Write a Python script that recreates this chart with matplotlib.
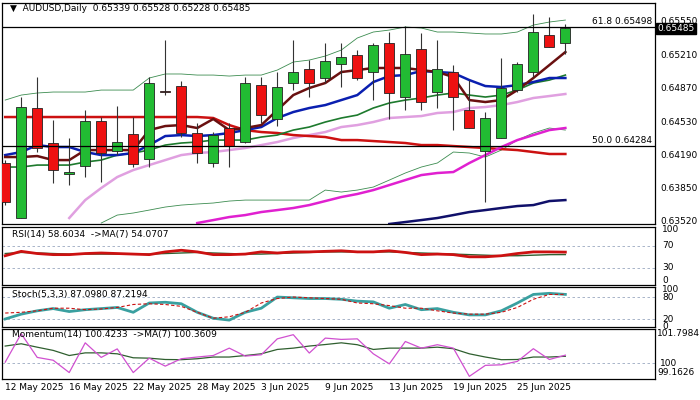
import matplotlib
matplotlib.use("Agg")
import matplotlib.pyplot as plt
import numpy as np

nan = np.nan
# --- candles (AUDUSD daily) ---
opens = [.64112, .63551, .64673, .64316, .63999, .64081, .64540, .64234, .64408, .64153, .64846, .64897,
         .64418, .64112, .64469, .64326, .64907, .64561, .64928, .65071, .64979, .65122, .65213, .65040,
         .65336, .64785, .65275, .64836, .65040, .64652, .64234, .64367, .64856, .65040, .65417, .65339]
highs = [.64142, .64785, .64989, .64550, .64367, .64652, .64581, .64693, .64581, .64989, .65366, .64948,
         .64520, .64428, .64520, .64989, .64989, .65040, .65366, .65162, .65336, .65336, .65264, .65336,
         .65448, .65509, .65438, .65366, .65111, .64958, .64632, .65183, .65142, .65632, .65601, .65528]
lows = [.63683, .63551, .64224, .63908, .63887, .63969, .63918, .64193, .64071, .64071, .64805, .64377,
        .64112, .64071, .64071, .64316, .64520, .64489, .64856, .64785, .64928, .64887, .64958, .64754,
        .64561, .64652, .64652, .64673, .64448, .64469, .63714, .64367, .64836, .64989, .65295, .65228]
closes = [.63714, .64683, .64265, .64040, .64020, .64540, .64214, .64326, .64102, .64928, .64836, .64418,
          .64214, .64397, .64285, .64928, .64601, .64887, .65040, .64928, .65152, .65193, .64979, .65315,
          .64826, .65224, .64734, .65071, .64785, .64469, .64571, .64877, .65122, .65448, .65295, .65485]

# --- overlays ---
ma_fast = [.64173, .64173, .64183, .64142, .64142, .64244, .64244, .64244, .64244, .64448, .64489, .64499,
           .64469, .64561, .64448, .64469, .64499, .64652, .64805, .64877, .64928, .65040, .65060, .65081,
           .65081, .65081, .65060, .65040, .64989, .64754, .64734, .64754, .64856, .64979, .65111, .65244]
ma_blue = [.64193, .64224, .64295, .64275, .64275, .64224, .64193, .64193, .64214, .64295, .64387, .64397,
           .64387, .64397, .64418, .64448, .64479, .64571, .64632, .64673, .64703, .64754, .64805, .64938,
           .64999, .65009, .65050, .65040, .65030, .64958, .64897, .64887, .64907, .64938, .64979, .64979]
ma_green = [.64071, .64071, .64091, .64091, .64091, .64122, .64142, .64193, .64214, .64244, .64295, .64316,
            .64326, .64346, .64346, .64346, .64377, .64397, .64448, .64479, .64530, .64571, .64601, .64673,
            .64724, .64754, .64775, .64805, .64826, .64805, .64785, .64805, .64856, .64928, .64958, .65009]
ma_pink = [nan, nan, nan, nan, .63551, .63734, .63857, .63969, .64040, .64091, .64142, .64193,
           .64214, .64224, .64244, .64265, .64295, .64326, .64367, .64397, .64428, .64479, .64499, .64530,
           .64571, .64581, .64591, .64622, .64632, .64673, .64683, .64703, .64734, .64775, .64795, .64816]
ma_red = [.64581] * 13 + [.64571, .64499, .64448, .64428, .64418, .64397, .64387, .64377, .64346, .64346,
                          .64336, .64326, .64316, .64295, .64295, .64285, .64275, .64265, .64254, .64244,
                          .64224, .64204, .64204]
ma_magenta = [nan] * 12 + [.63500, .63530, .63561, .63581, .63612, .63632, .63653, .63683, .63724, .63765,
                           .63796, .63836, .63887, .63938, .63989, .64010, .64020, .64112, .64193, .64275,
                           .64346, .64397, .64448, .64469]
ma_navy = [nan] * 24 + [.63490, .63510, .63530, .63551, .63581, .63612, .63632, .63653, .63673, .63683,
                        .63724, .63734]
bb_upper = [.64754, .64805, .64826, .64836, .64836, .64836, .64856, .64856, .64856, .64979, .65020, .65020,
            .65009, .65009, .64999, .65009, .65009, .65060, .65142, .65162, .65203, .65264, .65387, .65448,
            .65468, .65499, .65489, .65448, .65448, .65438, .65428, .65428, .65448, .65519, .65550, .65570]
bb_lower = [nan] * 6 + [.63500, .63581, .63602, .63632, .63663, .63683, .63694, .63704, .63724, .63734,
                        .63734, .63734, .63734, .63734, .63836, .63816, .63836, .63867, .63938, .64010,
                        .64071, .64112, .64224, .64214, .64173, .64244, .64346, .64418, .64469, .64448]

rsi = [52, 60, 56, 54, 54, 56, 57, 56, 55, 54, 59, 62, 59, 54, 54, 55, 59, 57, 59, 59, 60, 61, 59, 59,
       61, 58, 54, 55, 54, 50, 50, 52, 56, 59, 59, 58.6]
rsi_ma = [56, 58, 57, 56, 55, 55, 55, 55, 55, 55, 56, 57, 58, 57, 56, 55, 55, 56, 57, 58, 59, 59, 59, 59,
          59, 58, 57, 56, 55, 54, 53, 52, 52, 53, 54, 54.1]
stoch_k = [21, 34, 43, 49, 41, 46, 49, 52, 39, 64, 66, 62, 39, 23, 18, 39, 50, 80, 78, 76, 76, 74, 69, 67,
           50, 60, 46, 49, 39, 32, 32, 43, 64, 87, 90, 87.1]
stoch_d = [37, 39, 43, 50, 50, 46, 48, 52, 60, 62, 60, 55, 39, 23, 27, 39, 64, 76, 80, 78, 76, 74, 64, 62,
           57, 50, 50, 43, 37, 34, 34, 39, 52, 74, 87, 87.2]
mom = [100.05, 101.55, 100.3, 100.15, 99.5, 101.07, 100.3, 100.75, 99.5, 100.26, 99.84, 100.23, 100.32,
       100.4, 100.79, 100.37, 100.44, 101.28, 101.5, 100.53, 101.32, 101.25, 101.28, 100.49, 99.96, 101.14,
       100.79, 100.97, 100.79, 99.3, 99.88, 99.91, 100.09, 100.76, 100.19, 100.42]
mom_ma = [100.9, 101.02, 100.84, 100.67, 100.4, 100.54, 100.54, 100.49, 100.28, 100.26, 100.19, 100.18,
          100.23, 100.32, 100.32, 100.4, 100.49, 100.72, 100.79, 100.9, 100.98, 101.07, 100.97, 100.72,
          100.79, 100.79, 100.79, 100.84, 100.76, 100.49, 100.32, 100.18, 100.19, 100.32, 100.32, 100.36]

date_idx = [0, 4, 8, 12, 16, 20, 24, 28, 32]
date_labels = ["12 May 2025", "16 May 2025", "22 May 2025", "28 May 2025", "3 Jun 2025",
               "9 Jun 2025", "13 Jun 2025", "19 Jun 2025", "25 Jun 2025"]
price_ticks = [0.65550, 0.65210, 0.64870, 0.64530, 0.64190, 0.63850, 0.63520]
fib = [(61.8, 0.65498), (50.0, 0.64284)]

W, H = 700, 400
FS = 6.5
fig = plt.figure(figsize=(7, 4), dpi=100)
plt.rcParams["font.family"] = "DejaVu Sans"


def mkax(top, bottom):
    ax = fig.add_axes([2 / W, 1 - bottom / H, 653 / W, (bottom - top) / H])
    ax.set_xlim(-0.2, 40.6)
    ax.set_xticks([])
    ax.set_yticks([])
    for s in ax.spines.values():
        s.set_linewidth(0.9)
    return ax


def ylab(ax, val, text, xpix, **kw):
    yp = ax.transData.transform((0, val))[1]
    fig.text(xpix / W, yp / (fig.dpi * 4), text, fontsize=FS, va="center", **kw)


x = np.arange(len(opens))

# --- main price panel ---
ax = mkax(3, 224)
ax.set_ylim(0.6349, 0.65744)
ax.plot(x, bb_upper, color="#3c8c50", lw=0.6)
ax.plot(x, bb_lower, color="#3c8c50", lw=0.6)
ax.plot(x, ma_pink, color="#e0a0e0", lw=1.8)
ax.plot(x, ma_red, color="#cc1111", lw=1.8)
ax.plot(x, ma_magenta, color="#e020d0", lw=1.8)
ax.plot(x, ma_navy, color="#10106a", lw=1.8)
ax.plot(x, ma_green, color="#1d7a2d", lw=1.2)
ax.plot(x, ma_blue, color="#0a1fb0", lw=1.8)
ax.plot(x, ma_fast, color="#6a1010", lw=1.8)
for i in x:
    up = closes[i] >= opens[i]
    ax.vlines(i, lows[i], highs[i], color="#333333", lw=0.8, zorder=3)
    lo, hi = sorted([opens[i], closes[i]])
    ax.bar(i, max(hi - lo, 0.00004), bottom=lo, width=0.62,
           color="#22bb33" if up else "#ee1111", edgecolor="#222222", lw=0.6, zorder=4)
for lvl, val in fib:
    ax.axhline(val, color="black", lw=0.9, zorder=5)
    ax.text(40.4, val + 0.0001, f"{lvl:.1f} {val:.5f}", ha="right", va="bottom", fontsize=FS)
ax.text(0.3, 0.65690, "▼  AUDUSD,Daily  0.65339 0.65528 0.65228 0.65485", fontsize=FS, va="center")
for p in price_ticks[1:]:
    ylab(ax, p, f"{p:.5f}", 660)
ylab(ax, price_ticks[0] + 0.0001, f"{price_ticks[0]:.5f}", 660)
ylab(ax, closes[-1], f"{closes[-1]:.5f}", 657, color="white",
     bbox=dict(facecolor="black", edgecolor="black", pad=1))

# --- RSI ---
ax = mkax(227, 285)
ax.set_ylim(-1.5, 104.5)
for lv in (70, 30):
    ax.axhline(lv, color="#9aa8c0", lw=0.6, ls=(0, (3, 3)))
ax.plot(x, rsi_ma, color="#2f5f2f", lw=1.0)
ax.plot(x, rsi, color="#cc1111", lw=2.0)
ax.text(0.4, 90, "RSI(14) 58.6034  ->MA(7) 54.0707", fontsize=FS, va="center")
for lv in (100, 70, 30, 6):
    ylab(ax, lv, str(lv if lv != 6 else 0), 662)

# --- Stochastic ---
ax = mkax(287, 327)
ax.set_ylim(-0.5, 107)
for lv in (80, 20):
    ax.axhline(lv, color="#9aa8c0", lw=0.6, ls=(0, (3, 3)))
ax.plot(x, stoch_k, color="#3aa0a0", lw=2.0)
ax.plot(x, stoch_d, color="#cc1111", lw=0.8, ls=(0, (3, 2)))
ax.text(0.4, 88, "Stoch(5,3,3) 87.0980 87.2194", fontsize=FS, va="center")
for lv in (100, 80, 20, 0):
    ylab(ax, lv, str(lv), 662)

# --- Momentum ---
ax = mkax(329, 379)
ax.set_ylim(99.16, 101.8)
ax.axhline(100, color="#9aa8c0", lw=0.6, ls=(0, (3, 3)))
ax.plot(x, mom_ma, color="#2f5f2f", lw=0.9)
ax.plot(x, mom, color="#d050d0", lw=0.9)
ax.text(0.4, 101.5, "Momentum(14) 100.4233  ->MA(7) 100.3609", fontsize=FS, va="center")
ylab(ax, 101.55, "101.7984", 657)
ylab(ax, 100, "100", 660)
ylab(ax, 99.5, "99.1626", 657)
for i, lab in zip(date_idx, date_labels):
    xp = ax.transData.transform((i, 0))[0]
    fig.text(xp / (fig.dpi * 7), 1 - 388 / H, lab, fontsize=FS, va="center", ha="left")

fig.savefig("out.png", dpi=100)
